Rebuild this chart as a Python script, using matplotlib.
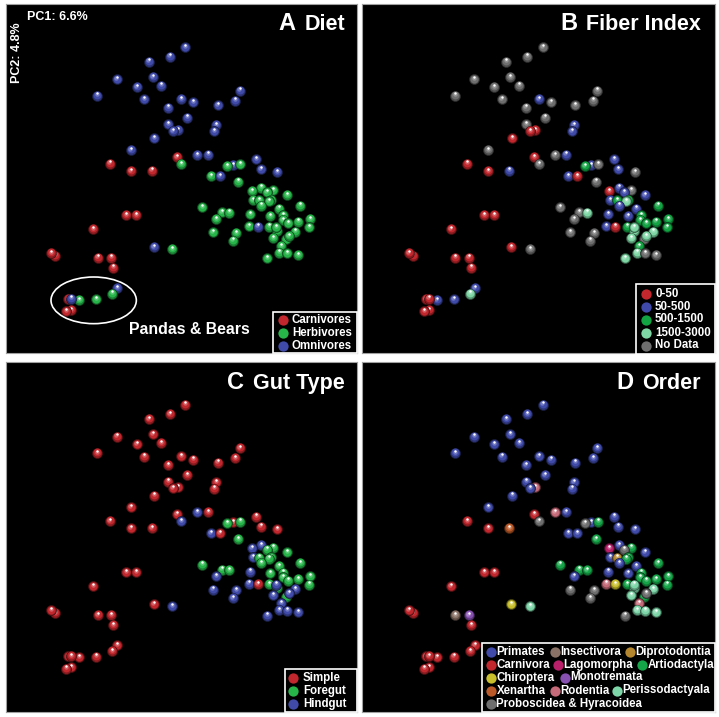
import matplotlib.pyplot as plt
import matplotlib.colors as mcolors
from matplotlib.patches import Ellipse, Rectangle
import numpy as np

plt.rcParams['font.family'] = ['Liberation Sans', 'DejaVu Sans']

# point positions (same ordination in every panel)
pc1 = [555, 509, 446, 458, 350, 410, 484, 292, 432, 543,
       579, 719, 706, 653, 504, 561, 505, 648, 533, 518,
       642, 463, 392, 530, 591, 624, 543, 329, 392, 455,
       700, 681, 721, 769, 632, 659, 782, 831, 714, 783,
       755, 820, 800, 861, 758, 778, 812, 806, 784, 900,
       836, 606, 665, 687, 751, 810, 648, 850, 848, 865,
       894, 931, 927, 746, 773, 808, 830, 828, 886, 638,
       709, 698, 820, 858, 866, 843, 837, 862, 894, 801,
       379, 409, 279, 461, 517, 165, 153, 293, 333, 340,
       351, 337, 288, 237, 204, 213, 213, 199]
pc2 = [142, 170, 185, 231, 238, 261, 257, 287, 298, 297,
       307, 272, 302, 316, 323, 353, 373, 375, 390, 393,
       394, 415, 450, 471, 465, 464, 492, 491, 513, 512,
       495, 498, 493, 478, 528, 528, 508, 516, 545, 563,
       573, 571, 577, 585, 600, 601, 600, 604, 617, 617,
       626, 622, 637, 638, 643, 648, 657, 646, 660, 670,
       665, 657, 682, 679, 680, 680, 692, 682, 695, 697,
       699, 722, 714, 718, 708, 738, 758, 760, 765, 775,
       645, 645, 687, 741, 747, 767, 759, 773, 773, 803,
       864, 881, 898, 900, 897, 896, 930, 934]

diet = list("OOOOOOOOOO" "OOOOOOOOOO" "OOOCOOHCCC" "OHHOHOOOHH" "HHHHHHHHHH"
            "HHHHHHHHHH" "HHHHOHHHHH" "HHHHHHHHHH" "CCCOHCCCCC" "OHHHCOCC")
fiber = list("NNNNNNNNNB" "NNNNNNNBRR" "BRNRNBNRRB" "BGNBBRBNNB" "RNBBBGGLBG"
             "BNNLBBNGGG" "GGGBRGLLLN" "NNLNLGLNNL" "RRRRNRRRRR" "BLBBRRRR")
gut = list("SSSSSSSSSS" "SSSSSSSSSS" "SSSSHSHSSS" "SFFSHSSSFH" "HFFFHFFFFF"
           "FFFFHFHFFF" "FFFHSFFHHH" "HHHFHHHHHH" "SSSSHSSSSS" "SSSSSSSS")
order = (['Pri'] * 10 +
         ['Pri'] * 8 + ['Rod', 'Pri'] +
         ['Pri', 'Pri', 'Pri', 'Car', 'Rod', 'Pri', 'Pro', 'Car', 'Car', 'Xen'] +
         ['Pri', 'Pro', 'Art', 'Pri', 'Pri', 'Pri', 'Pri', 'Pri', 'Art', 'Pri'] +
         ['Lag', 'Art', 'Pro', 'Pri', 'Pri', 'Dip', 'Art', 'Art', 'Pri', 'Art'] +
         ['Pri', 'Art', 'Art', 'Art', 'Pri', 'Pri', 'Pri', 'Art', 'Art', 'Art'] +
         ['Art', 'Art', 'Art', 'Rod', 'Chi', 'Art', 'Per', 'Per', 'Per', 'Pro'] +
         ['Pro', 'Pro', 'Per', 'Art', 'Pro', 'Rod', 'Per', 'Per', 'Per', 'Pro'] +
         ['Car', 'Car', 'Car', 'Chi', 'Per', 'Car', 'Car', 'Ins', 'Mon', 'Car'] +
         ['Car'] * 8)

RED, GRN, BLU = '#c1272d', '#27b54a', '#3f4aa9'
diet_pal = {'C': RED, 'H': GRN, 'O': BLU}
diet_lab = [('C', 'Carnivores'), ('H', 'Herbivores'), ('O', 'Omnivores')]
fiber_pal = {'R': RED, 'B': BLU, 'G': '#12a343', 'L': '#7dd6a4', 'N': '#6e6e6e'}
fiber_lab = [('R', '0-50'), ('B', '50-500'), ('G', '500-1500'),
             ('L', '1500-3000'), ('N', 'No Data')]
gut_pal = {'S': RED, 'F': GRN, 'H': BLU}
gut_lab = [('S', 'Simple'), ('F', 'Foregut'), ('H', 'Hindgut')]
order_pal = {'Pri': BLU, 'Ins': '#8a7266', 'Dip': '#b4862e', 'Car': RED,
             'Lag': '#b8206a', 'Art': '#15a548', 'Chi': '#c9bf2c', 'Mon': '#8650b0',
             'Xen': '#bb5a28', 'Rod': '#c56a78', 'Per': '#7dd6a8', 'Pro': '#6e6e6e'}

fig = plt.figure(figsize=(7.19, 7.17), dpi=100)
W, H = 719, 717


def make_ax(x0, y0, w, h, xlim, ylim):
    ax = fig.add_axes([x0 / W, 1 - (y0 + h) / H, w / W, h / H])
    ax.set_facecolor('black')
    ax.set_xlim(*xlim)
    ax.set_ylim(*ylim)
    ax.set_xticks([])
    ax.set_yticks([])
    for s in ax.spines.values():
        s.set_color('#a0a0a0')
        s.set_linewidth(0.8)
    return ax


def draw_balls(ax, codes, pal):
    # simple shaded sphere: dark rim, lighter body, small white glint
    for i, (x, y, k) in enumerate(zip(pc1, pc2, codes)):
        col = np.array(mcolors.to_rgb(pal[k]))
        z = 2 + i * 0.01
        ax.scatter(x, y, s=52, color=col * 0.7, edgecolors=col * 0.35,
                   linewidths=0.5, zorder=z)
        ax.scatter(x - 0.5, y - 2, s=32, color=col, linewidths=0,
                   zorder=z + 0.002)
        ax.scatter(x - 1, y - 4, s=10, color=col * 0.55 + 0.45,
                   linewidths=0, alpha=0.6, zorder=z + 0.004)
        ax.scatter(x - 0.5, y - 7, s=3, color='white', linewidths=0,
                   zorder=z + 0.006)


axA = make_ax(6, 4, 351, 349, (18, 1071), (1059, 12))
axB = make_ax(362, 4, 353, 349, (13, 1072), (1059, 12))
axC = make_ax(6, 362, 351, 350, (18, 1071), (1064, 14))
axD = make_ax(362, 362, 353, 350, (13, 1072), (1064, 14))

draw_balls(axA, diet, diet_pal)
draw_balls(axB, fiber, fiber_pal)
draw_balls(axC, gut, gut_pal)
draw_balls(axD, order, order_pal)

axA.add_patch(Ellipse((281, 901), 256, 140, fc='none', ec='white', lw=1.2, zorder=5))

# overlay in figure pixels for labels and legends
ov = fig.add_axes([0, 0, 1, 1], zorder=10)
ov.set_xlim(0, W)
ov.set_ylim(H, 0)
ov.axis('off')
ov.patch.set_alpha(0)

LFS = 8.3


def box(x0, y0, x1, y1):
    ov.add_patch(Rectangle((x0, y0), x1 - x0, y1 - y0, fc='black', ec='white', lw=1.2))


def entry(mx, y, color, label, tx):
    ov.scatter([mx], [y], s=55, color=color, linewidths=0, zorder=3)
    ov.text(tx, y, label, color='white', fontsize=LFS, fontweight='bold',
            ha='left', va='center')


box(273, 312, 357, 353)
for (k, lab), y in zip(diet_lab, [320, 333, 346]):
    entry(283, y, diet_pal[k], lab, 292)

box(636, 284, 715, 354)
for (k, lab), y in zip(fiber_lab, [294, 307, 319.5, 332.5, 345.5]):
    entry(646, y, fiber_pal[k], lab, 655)

box(285, 669, 357, 712)
for (k, lab), y in zip(gut_lab, [678, 691, 704]):
    entry(293, y, gut_pal[k], lab, 303)

box(482, 643, 715, 712)
order_rows = [
    (652, [('Pri', 'Primates', 491), ('Ins', 'Insectivora', 555), ('Dip', 'Diprotodontia', 630)]),
    (665, [('Car', 'Carnivora', 491), ('Lag', 'Lagomorpha', 558), ('Art', 'Artiodactyla', 642)]),
    (677.5, [('Chi', 'Chiroptera', 491), ('Mon', 'Monotremata', 565)]),
    (690.5, [('Xen', 'Xenartha', 491), ('Rod', 'Rodentia', 555), ('Per', 'Perissodactyala', 617)]),
    (704, [('Pro', 'Proboscidea & Hyracoidea', 491)]),
]
for y, items in order_rows:
    for k, lab, mx in items:
        entry(mx, y, order_pal[k], lab, mx + 5.5)

# panel titles
renderer = fig.canvas.get_renderer()


def title(right, base, letter, word):
    t = ov.text(right, base, word, color='white', fontsize=15.5, fontweight='bold',
                ha='right', va='baseline')
    left = t.get_window_extent(renderer).x0
    ov.text(left - 9, base, letter, color='white', fontsize=17, fontweight='bold',
            ha='right', va='baseline')


title(345, 30, 'A', 'Diet')
title(701, 30, 'B', 'Fiber Index')
title(345, 389, 'C', 'Gut Type')
title(701, 389, 'D', 'Order')

ov.text(27, 19.5, 'PC1: 6.6%', color='white', fontsize=9, fontweight='bold',
        ha='left', va='baseline')
ov.text(16.5, 53, 'PC2: 4.8%', color='white', fontsize=9, fontweight='bold',
        rotation=90, ha='center', va='center')
ov.text(129, 334, 'Pandas & Bears', color='white', fontsize=11.4, fontweight='bold',
        ha='left', va='baseline')

fig.savefig('out.png', dpi=100, facecolor='white')
